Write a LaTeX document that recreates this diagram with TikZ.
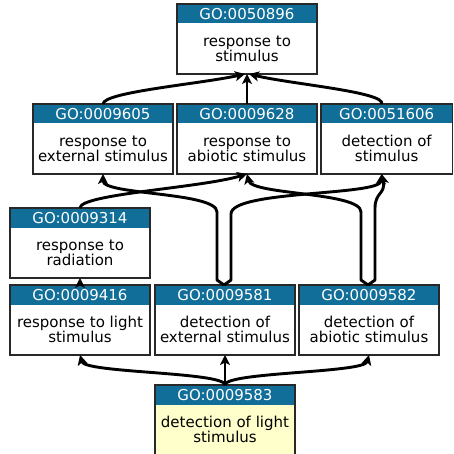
\documentclass[tikz,border=0pt]{standalone}
\usepackage{fontspec}
\setmainfont{DejaVu Sans}
\usetikzlibrary{arrows.meta,calc}
\definecolor{gohead}{RGB}{16,110,152}
\definecolor{goyellow}{RGB}{255,255,204}
\definecolor{goborder}{RGB}{40,40,40}
\tikzset{
 gobox/.style={draw=goborder, line width=1.2pt, minimum height=70pt, anchor=north west, inner sep=0pt, outer sep=0pt},
 gohdr/.style={fill=gohead, text=white, minimum height=19.5pt, anchor=north, inner sep=0pt, outer sep=0pt, font=\fontsize{15}{15}\selectfont},
 gotxt/.style={align=center, font=\fontsize{15}{15}\selectfont, inner sep=0pt},
 goedge/.style={line width=2.9pt, line join=round, -{Stealth[length=10pt,width=10pt,inset=2.5pt]}},
}
\newcommand{\gonode}[7]{%
 \node[gobox, minimum width=#4pt, fill=#7] (#1) at (#2,#3) {};
 \node[gohdr, minimum width=#4pt] (#1h) at (#1.north) {#5};
 \node[gotxt] (#1t) at ($(#1h.south)!0.5!(#1.south)$) {#6};
 \draw[goborder, line width=1.2pt] (#1.south west) rectangle (#1.north east);
}
\begin{document}
\begin{tikzpicture}[x=1pt,y=-1pt]
\useasboundingbox (0,0) rectangle (453,454);
\clip (0,0) rectangle (453,454);
\gonode{na}{177}{4}{140}{GO:0050896}{response to\\stimulus}{white}
\gonode{nb}{33}{104}{140}{GO:0009605}{response to\\external stimulus}{white}
\gonode{nc}{177}{104}{140}{GO:0009628}{response to\\abiotic stimulus}{white}
\gonode{nd}{321}{104}{131.4}{GO:0051606}{detection of\\stimulus}{white}
\gonode{ne}{10}{208}{140}{GO:0009314}{response to\\radiation}{white}
\gonode{nf}{10}{285}{140}{GO:0009416}{response to light\\stimulus}{white}
\gonode{ng}{155}{285}{140}{GO:0009581}{detection of\\external stimulus}{white}
\gonode{nh}{299}{285}{140}{GO:0009582}{detection of\\abiotic stimulus}{white}
\gonode{ni}{155}{385}{140}{GO:0009583}{detection of light\\stimulus}{goyellow}
% top level edges
\draw[goedge] (nb.north) .. controls (103,92) and (200,84) .. ([xshift=-2pt]na.south);
\draw[goedge] (nc.north) -- (na.south);
\draw[goedge] ([xshift=-5pt]nd.north) .. controls (386,92) and (290,84) .. ([xshift=2pt]na.south);
% middle edges
\draw[goedge] (ne.north) .. controls (80,194) and (200,188) .. (nc.south);
\draw[goedge] (nf.north) -- (ne.south);
\draw[goedge] ([xshift=-1pt]ng.north) -- (217,280) -- (217,212) .. controls (217,192) and (103,195) .. (nb.south);
\draw[goedge] ([xshift=-1pt]ng.north) -- (231,280) -- (231,214) .. controls (231,190) and (380,196) .. ([xshift=-5pt]nd.south);
\draw[goedge] ([xshift=-1pt]nh.north) -- (361,280) -- (361,212) .. controls (361,192) and (252,195) .. (nc.south);
\draw[goedge] ([xshift=-1pt]nh.north) -- (375,280) -- (375,208) .. controls (375,192) and (386,194) .. ([xshift=-5pt]nd.south);
% bottom edges
\draw[goedge] (ni.north) .. controls (225,372) and (85,373) .. (nf.south);
\draw[goedge] (ni.north) -- (ng.south);
\draw[goedge] (ni.north) .. controls (225,372) and (364,373) .. (nh.south);
\end{tikzpicture}
\end{document}
